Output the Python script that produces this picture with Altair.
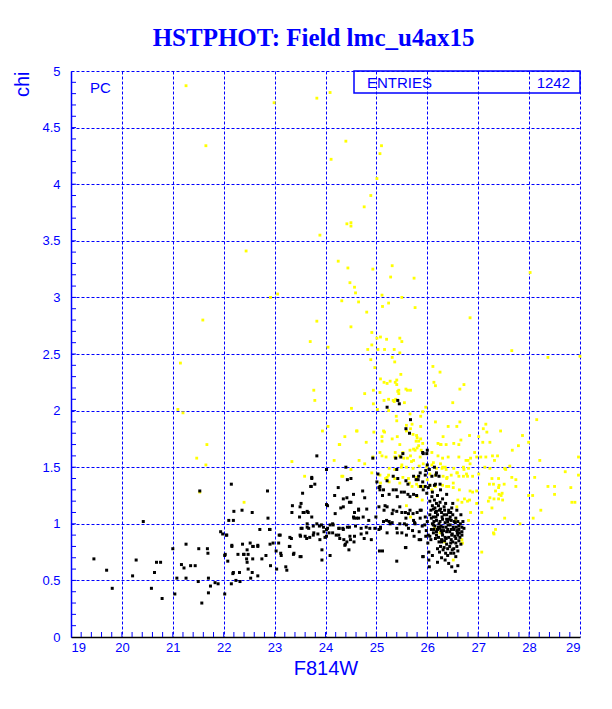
import altair as alt
import pandas as pd

# Yellow points (F814W, chi)
yellow_points = [
    (21.26,4.87),(22.99,4.72),(23.83,4.76),(21.65,4.34),(23.89,3.55),(22.44,3.41),(22.92,3.00),(23.06,3.03),
    (21.59,2.80),(23.83,2.79),(23.70,2.61),(21.15,2.42),
    (24.09,4.81),(24.40,4.38),(25.10,4.34),(25.07,4.27),(24.11,4.22),(25.01,4.05),(24.89,3.90),(24.76,3.80),
    (24.42,3.65),(24.50,3.66),(24.50,3.63),(24.25,3.32),(24.44,3.26),(24.93,3.25),(25.31,3.28),(25.28,3.18),
    (25.74,3.17),(24.48,3.13),(24.57,3.09),(24.59,3.04),(24.32,2.97),(24.65,2.96),(25.11,3.02),(25.50,3.00),
    (25.12,2.92),(25.24,2.95),(24.81,2.87),(25.76,2.91),(28.02,3.22),(26.84,2.82),(24.50,2.74),(24.91,2.69),
    (25.08,2.65),(25.01,2.64),(25.20,2.63),(25.46,2.64),(25.50,2.61),(24.91,2.58),(24.05,2.56),(24.83,2.54),
    (25.03,2.54),(25.16,2.54),(25.35,2.54),(25.46,2.51),(27.66,2.53),(28.37,2.47),(29.00,2.48),(24.89,2.45),
    (25.31,2.47),(25.36,2.43),(24.97,2.38),(26.11,2.39),
    (26.25,2.34),(25.48,2.32),(25.08,2.28),(25.15,2.25),(25.21,2.24),(25.40,2.27),(25.40,2.23),(25.58,2.19),
    (25.67,2.18),(25.44,2.18),(25.44,2.15),(25.07,2.16),(26.13,2.25),(26.16,2.22),(26.72,2.23),(26.64,2.19),
    (25.15,2.09),(25.35,2.08),(25.38,2.10),(25.55,2.07),(26.50,2.07),(25.24,2.00),(25.97,2.03),(25.91,1.99),
    (25.66,1.97),(25.39,1.95),(26.16,1.90),(26.64,1.90),(28.15,1.92),(25.70,1.88),(25.87,1.86),(25.67,1.84),
    (27.15,1.88),(27.44,1.82),(27.10,1.84),(25.16,1.81),(25.41,1.77),(25.79,1.78),(25.87,1.75),(26.83,1.78),
    (27.01,1.77),(27.87,1.78),(27.99,1.72),(25.46,1.70),(25.73,1.66),(25.88,1.65),(26.21,1.71),(26.27,1.70),
    (26.37,1.70),(26.66,1.74),(26.62,1.70),(26.93,1.63),(27.05,1.59),(27.15,1.59),(27.28,1.60),(27.67,1.65),
    (27.79,1.69),(25.37,1.63),(25.45,1.60),(25.54,1.58),(25.67,1.60),(25.86,1.59),(26.21,1.60),(26.41,1.59),
    (26.62,1.59),(26.76,1.56),(26.85,1.58),(26.97,1.59),(28.97,1.59),(26.71,1.50),(26.81,1.49),(27.13,1.50),
    (27.23,1.49),(27.52,1.49),(25.25,1.49),(25.49,1.50),(25.59,1.50),(25.72,1.49),(25.99,1.50),(26.09,1.52),
    (26.18,1.49),(26.29,1.49),(26.35,1.50),(28.71,1.46),(28.97,1.43),(25.21,1.41),(25.36,1.40),(25.52,1.41),
    (25.63,1.40),(26.31,1.42),(26.38,1.40),(26.47,1.43),(26.62,1.42),(26.71,1.42),(26.79,1.42),(26.89,1.42),
    (27.27,1.40),(27.40,1.40),(27.66,1.41),(27.74,1.39),(28.11,1.41),(27.22,1.35),(27.30,1.35),(27.51,1.35),
    (28.37,1.33),(28.50,1.33),(28.82,1.32),(25.46,1.36),(25.79,1.35),(25.92,1.33),(26.05,1.34),(26.16,1.33),
    (26.30,1.34),(26.42,1.33),(26.84,1.29),(26.97,1.29),(27.34,1.29),(27.47,1.27),(27.45,1.25),(27.31,1.22),
    (27.99,1.25),(28.07,1.25),(28.50,1.26),(28.84,1.19),(28.90,1.19),(28.23,1.12),(26.60,1.21),(26.68,1.19),
    (26.79,1.20),(26.97,1.18),(27.07,1.10),(26.85,1.10),(27.52,1.05),(28.08,1.05),(27.82,1.00),(27.34,0.95),
    (27.31,0.91),(27.07,0.75),(26.69,0.83),(26.81,1.03),
    (25.27,2.26),(25.37,2.25),(24.94,2.18),(25.42,2.17),(25.61,2.18),(24.77,2.15),(25.24,2.10),(25.33,2.09),
    (24.94,2.06),(25.02,2.01),(25.40,1.91),(25.59,1.87),(25.87,1.95),(24.62,1.82),(24.95,1.81),(25.14,1.82),
    (25.59,1.82),(25.72,1.79),(25.80,1.76),(24.38,1.77),(25.11,1.77),(25.31,1.75),(25.11,1.73),(25.83,1.73),
    (25.91,1.71),(25.80,1.67),(24.27,1.70),(24.80,1.72),(26.31,1.77),(26.52,1.71),(25.52,1.63),(25.66,1.65),
    (25.76,1.65),(26.09,1.63),(26.30,1.58),(25.07,1.63),(25.19,1.59),(25.36,1.59),(25.61,1.58),(25.69,1.55),
    (24.17,1.56),(24.66,1.56),(24.77,1.53),(25.50,1.52),(25.84,1.51),(26.12,1.54),(25.36,1.48),(24.32,1.42),
    (24.50,1.48),(24.91,1.45),(25.07,1.43),(25.79,1.41),(26.00,1.39),(26.37,1.48),(26.52,1.49),(26.58,1.45),
    (25.08,1.36),(25.25,1.37),
    (21.47,1.58),(21.65,1.52),(21.53,1.28),(22.40,1.19),(23.34,1.55),(23.59,1.42),(24.34,1.42),(24.93,1.59),
    (25.11,1.60),(25.18,1.40),(25.24,1.43),(23.77,2.18),(23.79,2.09),(21.67,1.70),(23.94,1.82),(24.05,1.86),
    (24.28,1.70),(24.61,1.82),(24.51,2.02),(21.10,2.01),(21.20,1.98),
    (26.41,1.86),(26.58,1.86),(27.17,1.81),(27.09,1.72),(27.23,1.72),(27.38,1.60),(28.21,1.56),(26.80,1.56),
    (26.84,1.53),(26.72,1.48),(27.32,1.56),(27.54,1.48),(27.62,1.51),(27.41,1.34),(27.40,1.32),(27.74,1.33),
    (27.23,1.23),(27.40,1.22),(27.48,1.21),(27.41,1.26),(27.20,1.20),(27.27,1.14),(26.26,1.70),(26.30,1.50),
    (26.39,1.41),(26.59,1.45),(26.51,1.36),(26.89,1.28),(26.73,1.22),(26.56,1.03),(26.68,0.83),(27.30,0.92),
    (25.78,1.73),(25.83,1.69),(25.73,1.56),(25.92,1.53),(26.26,1.53),(26.05,1.44),(26.16,1.43),(25.65,1.36),
    (25.70,1.33),(25.83,1.33),(26.38,1.33),(26.51,1.32),(26.63,1.30),(26.77,1.44),(27.01,1.44),(25.80,1.24),
    (25.90,1.21),(26.09,1.30),(26.58,1.15),(26.83,1.21),(26.14,0.96),(26.25,0.92),(26.34,0.84),(26.68,0.86),
    (26.51,0.68),(25.67,1.06),(25.59,1.16),
]

# Black points (F814W, chi)
black_points = [
    (19.45,0.69),(19.70,0.59),(19.81,0.43),(20.28,0.68),(20.21,0.54),(20.68,0.66),(20.76,0.66),(20.64,0.57),
    (20.58,0.43),(20.79,0.34),(20.42,1.02),(21.26,0.82),(21.00,0.78),(21.17,0.64),(21.22,0.61),(21.35,0.63),
    (21.44,0.63),(21.08,0.52),(21.26,0.52),(21.51,0.78),(21.68,0.78),(21.69,0.74),(21.50,0.49),(21.70,0.52),
    (21.04,0.38),(21.57,0.30),(21.70,0.39),(21.74,0.45),(21.83,0.48),(21.89,0.47),(21.53,1.29),(22.02,0.38),
    (22.02,0.72),(22.05,0.90),(21.94,0.93),(22.15,1.35),(22.20,1.11),(22.10,1.03),(22.36,1.12),(22.16,0.80),
    (22.08,0.67),(22.18,0.56),(22.24,0.50),(22.32,0.49),(22.15,0.47),(22.37,0.82),(22.28,0.73),(22.40,0.73),
    (22.46,0.77),(22.52,0.83),(22.57,0.80),(22.45,0.69),(22.48,0.60),(22.53,0.52),(22.67,0.54),(22.56,1.10),
    (22.71,0.95),(22.67,0.80),(22.75,0.69),(22.86,1.29),(22.87,1.05),(22.91,0.95),(22.83,0.72),(22.92,0.63),
    (23.04,0.60),(22.97,0.83),(23.11,0.90),(23.12,0.74),(23.13,0.72),(23.30,0.88),(23.30,0.80),(23.22,0.62),
    (23.24,0.59),(23.34,1.10),(23.37,0.73),(23.50,0.71),(23.52,0.71),(23.49,1.06),(23.52,1.18),(23.55,1.27),
    (23.56,1.10),(23.64,1.11),(23.71,1.33),(23.73,1.40),(23.79,1.35),(23.54,0.96),(23.67,0.96),(23.51,0.89),
    (23.63,0.87),(23.76,0.90),(23.89,0.86),(23.99,0.88),(23.64,1.00),(23.76,0.98),(23.83,1.00),(23.92,0.99),
    (23.96,0.97),(24.02,0.95),(24.09,0.99),(23.93,0.77),(24.09,0.72),(23.93,0.68),(23.83,1.60),(24.02,1.48),
    (24.04,1.16),(24.19,1.09),(24.30,1.14),(24.43,1.39),(24.50,1.40),(24.40,1.50),(24.18,1.25),(24.35,1.22),
    (24.55,1.26),(24.73,1.29),(24.47,1.19),(24.57,1.10),(24.65,1.12),(24.77,1.23),(24.81,1.13),(24.56,1.05),
    (24.65,1.05),(24.74,1.06),(24.85,1.03),(24.99,1.06),(24.15,0.99),(24.26,0.96),(24.34,0.96),(24.47,0.97),
    (24.59,0.98),(24.70,0.96),(24.80,0.97),(24.87,0.96),(24.97,0.96),(25.08,0.96),(24.14,0.92),(24.26,0.90),
    (24.36,0.86),(24.42,0.84),(24.49,0.86),(24.57,0.89),(24.70,0.91),(24.76,0.87),(24.81,0.92),(24.90,0.86),
    (25.05,0.95),(24.38,0.81),(24.46,0.77),(25.06,0.76),(25.12,0.76),(25.01,1.37),(25.07,1.30),(25.05,1.15),
    (25.15,1.12),(25.20,1.03),(25.25,1.02),(25.14,1.02),
    (23.73,1.41),(23.72,1.33),(24.25,1.32),(24.42,1.23),(23.35,1.16),(23.50,1.15),(24.35,1.15),(24.50,1.19),
    (24.65,1.13),(23.58,1.10),(23.66,1.10),(23.73,1.06),(24.02,1.17),(24.55,1.06),(24.61,1.05),(22.19,1.03),
    (22.90,0.95),(23.09,0.90),(21.98,0.91),(22.06,0.90),(23.52,0.96),(23.64,0.97),(23.88,0.98),(24.04,0.96),
    (24.14,1.00),(24.27,0.96),(24.35,0.95),(24.43,0.97),(23.50,0.90),(23.60,0.89),(23.69,0.88),(23.77,0.92),
    (23.85,0.91),(23.97,0.93),(24.07,0.92),(23.33,0.87),(24.02,0.89),(24.21,0.90),(24.28,0.87),(24.39,0.82),
    (24.48,0.89),(24.56,0.84),(22.16,0.81),(22.58,0.80),(22.67,0.81),(22.91,0.82),(23.08,0.83),(23.29,0.80),
    (22.03,0.73),(22.39,0.73),(22.48,0.73),(23.03,0.76),(23.38,0.74),(22.46,0.66),(22.57,0.69),(22.19,0.57),
    (22.31,0.57),(22.56,0.57),
    (25.42,2.09),(25.45,2.06),(25.21,2.03),(25.67,1.92),(25.58,1.84),(25.65,1.80),(24.93,1.58),(25.38,1.58),
    (25.48,1.59),(26.00,1.65),(25.92,1.62),(26.00,1.52),(25.40,1.48),(25.03,1.44),(25.86,1.45),(25.97,1.47),
    (26.04,1.48),(26.09,1.42),(26.17,1.43),(26.23,1.42),(25.96,1.33),(26.05,1.34),(26.16,1.35),(26.25,1.35),
    (25.83,1.42),(25.62,1.35),(25.82,1.39),(25.42,1.40),(25.21,1.38),(25.33,1.42),(25.05,1.32),
    (25.07,1.33),(25.14,1.30),(25.12,1.25),(25.25,1.26),(25.33,1.30),(25.39,1.30),(25.41,1.24),(25.49,1.28),
    (25.55,1.28),(25.62,1.26),(25.66,1.24),(25.73,1.26),(25.79,1.25),(25.17,1.16),(25.21,1.15),(25.33,1.12),
    (25.40,1.11),(25.31,1.09),(25.50,1.10),(25.57,1.10),(25.63,1.09),(25.72,1.09),(25.80,1.10),(25.88,1.12),
    (25.08,0.97),(25.21,0.92),(25.27,1.00),(25.40,0.96),(25.31,1.01),(25.50,0.92),(25.41,0.92),(25.55,1.00),
    (25.63,0.96),(25.71,0.94),(25.75,1.01),(25.84,0.93),(25.95,0.99),(25.40,0.67),(25.58,0.79),(25.84,0.86),
    (25.97,0.89),(25.91,0.71),(26.03,0.68),(26.03,0.75),
    (25.52,1.62),(25.99,1.62),(25.91,1.63),(25.96,1.43),(26.14,1.50),(26.18,1.45),(25.73,1.42),(25.78,1.39),
    (25.58,1.38),(25.91,1.37),(25.87,1.33),(25.92,1.30),(25.99,1.27),(26.09,1.24),(26.14,1.21),(26.25,1.19),
    (26.18,1.18),(25.46,1.15),(25.66,1.12),(25.86,1.12),(26.12,1.13),(26.18,1.11),(26.26,1.13),(26.34,1.12),
    (26.42,1.12),(26.46,1.10),(25.58,1.05),(25.73,1.03),(25.86,1.05),(25.96,1.06),(26.08,1.05),(26.18,1.03),
    (26.29,1.06),(26.38,1.04),(26.47,1.03),(26.56,1.05),(25.46,1.00),(25.59,0.99),(25.76,1.00),(25.90,0.98),
    (26.12,0.99),(26.22,0.97),(26.31,0.97),(26.41,0.99),(26.51,0.97),(26.62,0.98),(26.68,0.97),(26.18,0.93),
    (26.29,0.92),(26.38,0.93),(26.49,0.91),(26.59,0.92),(26.68,0.90),(26.05,0.89),(26.16,0.87),(26.28,0.86),
    (26.37,0.87),(26.47,0.86),(26.56,0.87),(25.59,0.90),(25.74,0.89),(25.87,0.86),(25.57,0.79),(26.01,0.83),
    (26.20,0.78),(26.31,0.77),(26.49,0.77),(26.56,0.71),(26.35,0.68),(26.42,0.65),(26.60,0.63),(25.92,0.71),
    (26.05,1.20),(26.10,1.16),(26.15,1.14),(26.22,1.16),(26.28,1.10),(26.33,1.15),(26.38,1.08),(26.45,1.06),
    (26.50,1.08),(26.55,1.01),(26.60,1.02),(26.65,1.00),(26.20,1.08),(26.25,1.02),(26.30,1.04),(26.35,1.01),
    (26.40,1.02),(26.45,0.99),(26.52,0.95),(26.58,0.94),(26.62,0.95),(26.68,0.93),(26.10,1.00),(26.15,0.98),
    (26.20,0.95),(26.25,0.96),(26.32,0.94),(26.40,0.95),(26.44,0.93),(26.48,0.90),(26.54,0.89),(26.60,0.90),
    (26.64,0.88),(26.12,0.92),(26.18,0.90),(26.22,0.88),(26.30,0.90),(26.35,0.88),(26.42,0.88),(26.50,0.84),
    (26.56,0.83),(26.62,0.85),(26.08,0.95),(26.28,0.84),(26.38,0.82),(26.44,0.80),(26.26,0.80),(26.33,0.79),
    (26.05,1.08),(26.12,1.06),(26.00,1.02),(25.98,0.94),(26.02,0.90),(26.16,1.10),(26.24,1.12),(26.42,1.10),
    (26.48,1.14),(26.36,1.18),(26.30,1.22),(26.20,1.25),(26.10,1.28),(26.02,1.32),(26.14,1.34),(26.26,1.30),
    (26.38,1.26),(26.50,1.18),(26.58,1.12),(26.66,1.08),(26.70,1.02),(26.72,0.96),(26.66,0.82),(26.52,0.78),
    (26.46,0.74),(26.40,0.72),(26.28,0.70),(26.20,0.66),(26.10,0.72),(26.04,0.62),(26.48,0.62),(26.55,0.58),
    (26.07,1.12),(26.13,1.02),(26.17,1.06),(26.23,1.00),(26.27,0.98),(26.33,1.08),(26.43,1.04),(26.53,1.02),
    (26.57,0.97),(26.63,0.92),(26.47,0.95),(26.37,0.97),(26.27,0.94),(26.13,0.95),(26.07,0.86),(26.23,0.84),
    (26.34,0.85),(26.46,0.83),(26.58,0.80),(26.40,0.78),(26.24,0.75),(26.36,0.74),(26.52,0.74),(26.60,0.76),
]

x_ticks = [19, 20, 21, 22, 23, 24, 25, 26, 27, 28, 29]
y_ticks = [0, 0.5, 1, 1.5, 2, 2.5, 3, 3.5, 4, 4.5, 5]
x_minor = [round(19 + 0.2 * i, 1) for i in range(1, 50)]
y_minor = [round(0.1 * i, 1) for i in range(1, 50)]

BLUE = "#0000ff"
FONT = "Liberation Sans"
W, H = 509, 566

ydf = pd.DataFrame(yellow_points, columns=["F814W", "chi"])
bdf = pd.DataFrame(black_points, columns=["F814W", "chi"])
xmdf = pd.DataFrame({"F814W": x_minor})
ymdf = pd.DataFrame({"chi": y_minor})

xs = alt.Scale(domain=[19, 29], nice=False, zero=False)
ys = alt.Scale(domain=[0, 5], nice=False, zero=False)

main_x_axis = alt.Axis(
    values=x_ticks, format="d", title="F814W", grid=True, gridColor=BLUE, gridDash=[3, 2],
    gridWidth=1, ticks=False, domain=True, domainColor="#000000", domainWidth=1.5,
    labelColor=BLUE, labelFont=FONT, labelFontSize=13, labelPadding=4,
    titleColor=BLUE, titleFont=FONT, titleFontSize=20, titleFontWeight="normal",
    titleBaseline="alphabetic", titleY=37,
)
main_y_axis = alt.Axis(
    values=y_ticks, format="~g", title="chi", grid=True, gridColor=BLUE, gridDash=[3, 2],
    gridWidth=1, ticks=False, domain=True, domainColor=BLUE, domainWidth=1.5,
    labelColor=BLUE, labelFont=FONT, labelFontSize=13, labelPadding=11,
    titleColor=BLUE, titleFont=FONT, titleFontSize=20, titleFontWeight="normal",
    titleAngle=270, titleAlign="right", titleBaseline="middle", titleX=-49, titleY=0,
)

X = alt.X("F814W:Q", scale=xs, axis=main_x_axis)
Y = alt.Y("chi:Q", scale=ys, axis=main_y_axis)

yellow = alt.Chart(ydf).mark_square(size=8, color="#ffff00", opacity=1, strokeWidth=0).encode(x=X, y=Y)
black = alt.Chart(bdf).mark_square(size=9, color="#000000", opacity=1, strokeWidth=0).encode(x=X, y=Y)
# minor ticks pointing into the frame
minor_x = alt.Chart(xmdf).mark_rule(color=BLUE, strokeWidth=1).encode(
    x=X, y=alt.value(H), y2=alt.value(H - 5)
)
minor_y = alt.Chart(ymdf).mark_rule(color=BLUE, strokeWidth=1).encode(
    y=Y, x=alt.value(0), x2=alt.value(5)
)

anno = pd.DataFrame({"k": [0]})
box = alt.Chart(anno).mark_rect(fillOpacity=0, stroke=BLUE, strokeWidth=1.5).encode(
    x=alt.value(283), x2=alt.value(W), y=alt.value(0), y2=alt.value(22)
)
entries = alt.Chart(anno).mark_text(text="ENTRIES", font=FONT, fontSize=15, color=BLUE,
                                     align="left", baseline="middle").encode(x=alt.value(296), y=alt.value(12))
count = alt.Chart(anno).mark_text(text="1242", font=FONT, fontSize=15, color=BLUE,
                                   align="right", baseline="middle").encode(x=alt.value(499), y=alt.value(12))
pc = alt.Chart(anno).mark_text(text="PC", font=FONT, fontSize=15, color=BLUE,
                                align="left", baseline="middle").encode(x=alt.value(19), y=alt.value(17))

chart = alt.layer(yellow, black, minor_x, minor_y, box, entries, count, pc).properties(
    width=W, height=H,
    title=alt.TitleParams("HSTPHOT: Field lmc_u4ax15", font="Liberation Serif", fontSize=25,
                          fontWeight="bold", color=BLUE, anchor="middle", offset=14, dx=-12),
    autosize=alt.AutoSizeParams(type="none"),
    padding={"left": 63, "top": 63, "right": 24, "bottom": 64},
    background="white",
).configure_view(stroke=None)

chart.save("out.html", embed_options={"renderer": "svg", "actions": False})
